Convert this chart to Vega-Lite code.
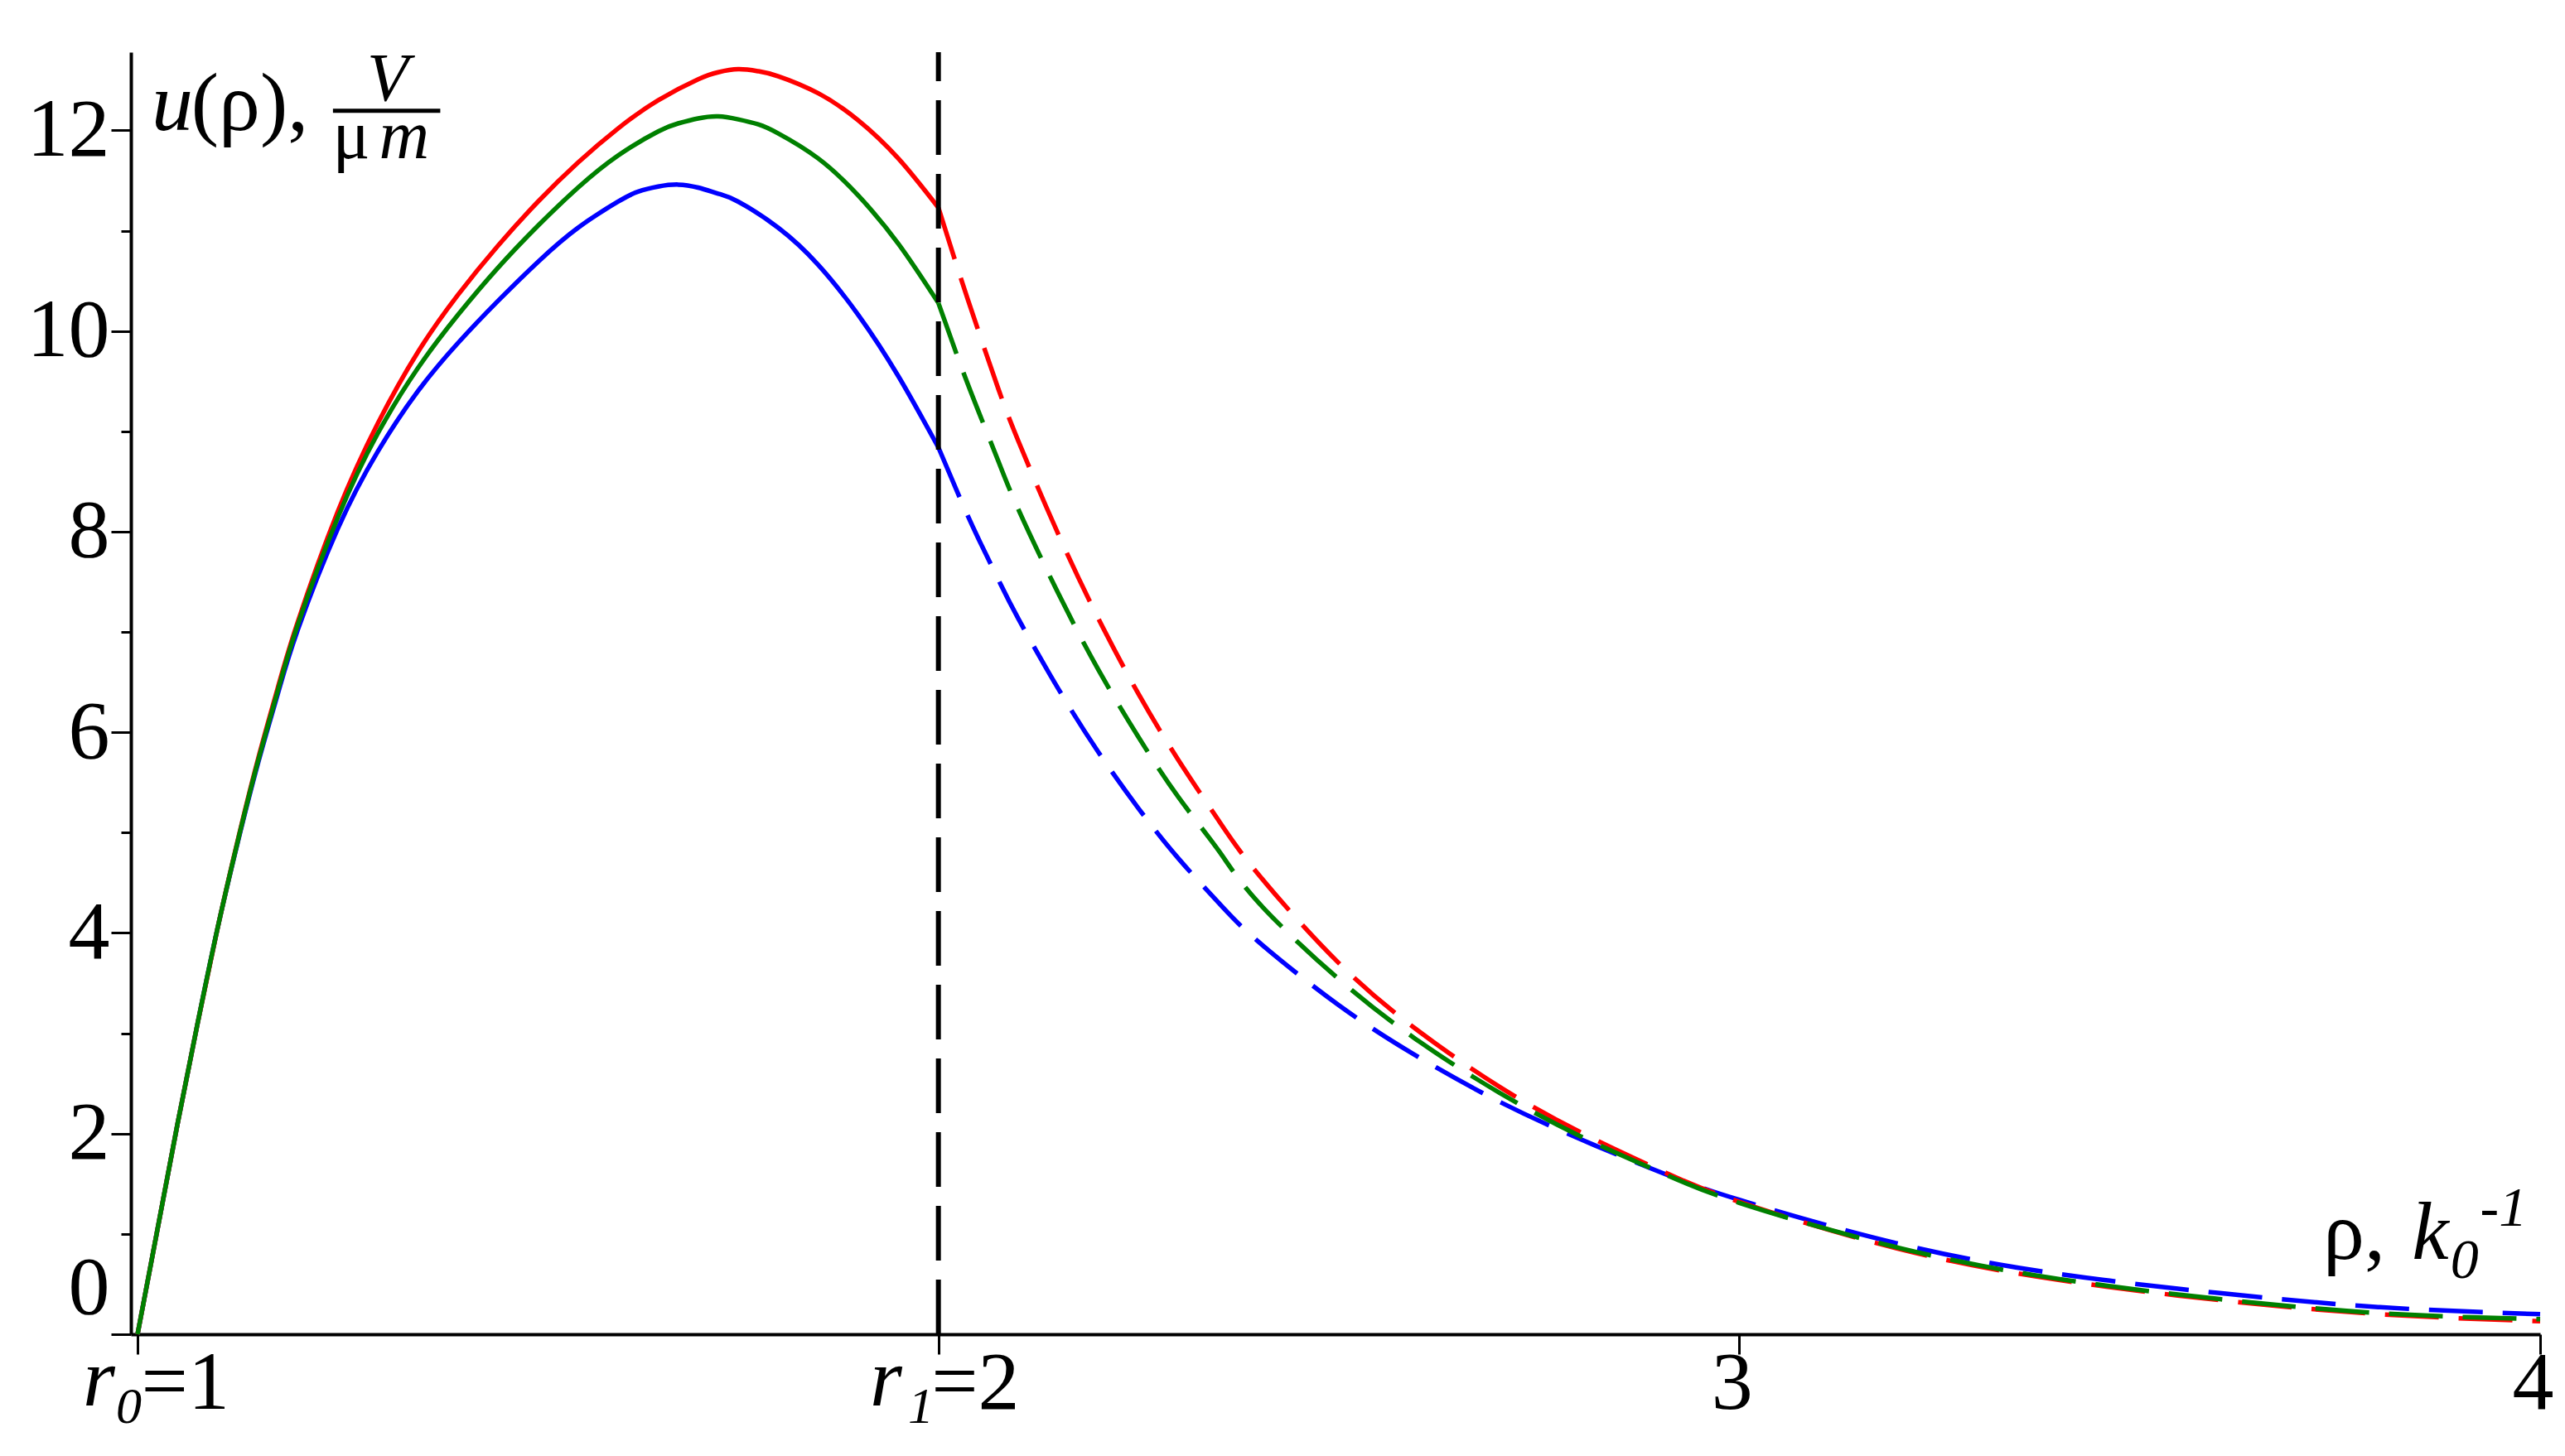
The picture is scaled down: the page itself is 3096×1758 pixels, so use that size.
{
  "$schema": "https://vega.github.io/schema/vega-lite/v6.json",
  "width": 2908,
  "height": 1548,
  "autosize": {"type": "none"},
  "padding": {"left": 158, "top": 63, "right": 30, "bottom": 147},
  "background": "white",
  "config": {
    "view": {"stroke": null},
    "axis": {
      "domainColor": "black", "domainWidth": 4, "tickColor": "black", "tickWidth": 3,
      "labelFont": "Liberation Serif", "labelFontSize": 100, "labelColor": "black",
      "grid": false, "title": null, "labelFlush": false, "labelOverlap": false, "labelBound": false
    }
  },
  "datasets": {
    "one": [{"k": 1}],
    "curves": [
      {"s": "blue", "x": 1.0, "y": 0}, {"s": "blue", "x": 1.025, "y": 1.05}, {"s": "blue", "x": 1.05, "y": 2.1}, {"s": "blue", "x": 1.075, "y": 3.1}, {"s": "blue", "x": 1.1, "y": 4.05}, {"s": "blue", "x": 1.125, "y": 4.9}, {"s": "blue", "x": 1.15, "y": 5.68}, {"s": "blue", "x": 1.175, "y": 6.38}, {"s": "blue", "x": 1.2, "y": 7.02}, {"s": "blue", "x": 1.25, "y": 8.03}, {"s": "blue", "x": 1.3, "y": 8.8}, {"s": "blue", "x": 1.35, "y": 9.4}, {"s": "blue", "x": 1.4, "y": 9.88}, {"s": "blue", "x": 1.45, "y": 10.3}, {"s": "blue", "x": 1.5, "y": 10.69}, {"s": "blue", "x": 1.55, "y": 11.03}, {"s": "blue", "x": 1.6, "y": 11.29}, {"s": "blue", "x": 1.625, "y": 11.39}, {"s": "blue", "x": 1.65, "y": 11.44}, {"s": "blue", "x": 1.675, "y": 11.46}, {"s": "blue", "x": 1.7, "y": 11.43}, {"s": "blue", "x": 1.725, "y": 11.37}, {"s": "blue", "x": 1.75, "y": 11.29}, {"s": "blue", "x": 1.8, "y": 11.03}, {"s": "blue", "x": 1.85, "y": 10.66}, {"s": "blue", "x": 1.9, "y": 10.16}, {"s": "blue", "x": 1.95, "y": 9.55}, {"s": "blue", "x": 2.0, "y": 8.84},
      {"s": "blue", "x": 2.025, "y": 8.37}, {"s": "blue", "x": 2.05, "y": 7.93}, {"s": "blue", "x": 2.075, "y": 7.52}, {"s": "blue", "x": 2.1, "y": 7.13}, {"s": "blue", "x": 2.15, "y": 6.43}, {"s": "blue", "x": 2.2, "y": 5.8}, {"s": "blue", "x": 2.25, "y": 5.24}, {"s": "blue", "x": 2.3, "y": 4.74}, {"s": "blue", "x": 2.35, "y": 4.3}, {"s": "blue", "x": 2.4, "y": 3.91}, {"s": "blue", "x": 2.5, "y": 3.28}, {"s": "blue", "x": 2.6, "y": 2.76}, {"s": "blue", "x": 2.7, "y": 2.32}, {"s": "blue", "x": 2.8, "y": 1.95}, {"s": "blue", "x": 2.9, "y": 1.62}, {"s": "blue", "x": 3.0, "y": 1.34}, {"s": "blue", "x": 3.2, "y": 0.9}, {"s": "blue", "x": 3.4, "y": 0.6}, {"s": "blue", "x": 3.6, "y": 0.41}, {"s": "blue", "x": 3.8, "y": 0.27}, {"s": "blue", "x": 4.0, "y": 0.2},
      {"s": "red", "x": 1.0, "y": 0}, {"s": "red", "x": 1.025, "y": 1.05}, {"s": "red", "x": 1.05, "y": 2.1}, {"s": "red", "x": 1.075, "y": 3.1}, {"s": "red", "x": 1.1, "y": 4.05}, {"s": "red", "x": 1.125, "y": 4.92}, {"s": "red", "x": 1.15, "y": 5.72}, {"s": "red", "x": 1.175, "y": 6.44}, {"s": "red", "x": 1.2, "y": 7.1}, {"s": "red", "x": 1.25, "y": 8.2}, {"s": "red", "x": 1.3, "y": 9.08}, {"s": "red", "x": 1.35, "y": 9.79}, {"s": "red", "x": 1.4, "y": 10.36}, {"s": "red", "x": 1.45, "y": 10.85}, {"s": "red", "x": 1.5, "y": 11.29}, {"s": "red", "x": 1.55, "y": 11.68}, {"s": "red", "x": 1.6, "y": 12.02}, {"s": "red", "x": 1.65, "y": 12.3}, {"s": "red", "x": 1.7, "y": 12.51}, {"s": "red", "x": 1.725, "y": 12.58}, {"s": "red", "x": 1.75, "y": 12.61}, {"s": "red", "x": 1.775, "y": 12.59}, {"s": "red", "x": 1.8, "y": 12.54}, {"s": "red", "x": 1.85, "y": 12.37}, {"s": "red", "x": 1.9, "y": 12.1}, {"s": "red", "x": 1.95, "y": 11.72}, {"s": "red", "x": 2.0, "y": 11.23},
      {"s": "red", "x": 2.025, "y": 10.6}, {"s": "red", "x": 2.05, "y": 10.0}, {"s": "red", "x": 2.075, "y": 9.42}, {"s": "red", "x": 2.1, "y": 8.9}, {"s": "red", "x": 2.15, "y": 7.97}, {"s": "red", "x": 2.2, "y": 7.13}, {"s": "red", "x": 2.25, "y": 6.38}, {"s": "red", "x": 2.3, "y": 5.72}, {"s": "red", "x": 2.35, "y": 5.12}, {"s": "red", "x": 2.4, "y": 4.58}, {"s": "red", "x": 2.5, "y": 3.7}, {"s": "red", "x": 2.6, "y": 3.02}, {"s": "red", "x": 2.7, "y": 2.47}, {"s": "red", "x": 2.8, "y": 2.02}, {"s": "red", "x": 2.9, "y": 1.64}, {"s": "red", "x": 3.0, "y": 1.32}, {"s": "red", "x": 3.2, "y": 0.85}, {"s": "red", "x": 3.4, "y": 0.54}, {"s": "red", "x": 3.6, "y": 0.34}, {"s": "red", "x": 3.8, "y": 0.2}, {"s": "red", "x": 4.0, "y": 0.13},
      {"s": "green", "x": 1.0, "y": 0}, {"s": "green", "x": 1.025, "y": 1.05}, {"s": "green", "x": 1.05, "y": 2.1}, {"s": "green", "x": 1.075, "y": 3.1}, {"s": "green", "x": 1.1, "y": 4.05}, {"s": "green", "x": 1.125, "y": 4.91}, {"s": "green", "x": 1.15, "y": 5.7}, {"s": "green", "x": 1.175, "y": 6.41}, {"s": "green", "x": 1.2, "y": 7.07}, {"s": "green", "x": 1.25, "y": 8.14}, {"s": "green", "x": 1.3, "y": 8.98}, {"s": "green", "x": 1.35, "y": 9.63}, {"s": "green", "x": 1.4, "y": 10.16}, {"s": "green", "x": 1.45, "y": 10.63}, {"s": "green", "x": 1.5, "y": 11.05}, {"s": "green", "x": 1.55, "y": 11.43}, {"s": "green", "x": 1.6, "y": 11.75}, {"s": "green", "x": 1.65, "y": 11.99}, {"s": "green", "x": 1.675, "y": 12.07}, {"s": "green", "x": 1.7, "y": 12.12}, {"s": "green", "x": 1.725, "y": 12.14}, {"s": "green", "x": 1.75, "y": 12.11}, {"s": "green", "x": 1.775, "y": 12.06}, {"s": "green", "x": 1.8, "y": 11.97}, {"s": "green", "x": 1.85, "y": 11.72}, {"s": "green", "x": 1.9, "y": 11.35}, {"s": "green", "x": 1.95, "y": 10.87}, {"s": "green", "x": 2.0, "y": 10.28},
      {"s": "green", "x": 2.025, "y": 9.72}, {"s": "green", "x": 2.05, "y": 9.2}, {"s": "green", "x": 2.075, "y": 8.7}, {"s": "green", "x": 2.1, "y": 8.22}, {"s": "green", "x": 2.15, "y": 7.38}, {"s": "green", "x": 2.2, "y": 6.62}, {"s": "green", "x": 2.25, "y": 5.95}, {"s": "green", "x": 2.3, "y": 5.35}, {"s": "green", "x": 2.35, "y": 4.82}, {"s": "green", "x": 2.4, "y": 4.3}, {"s": "green", "x": 2.5, "y": 3.54}, {"s": "green", "x": 2.6, "y": 2.92}, {"s": "green", "x": 2.7, "y": 2.41}, {"s": "green", "x": 2.8, "y": 1.98}, {"s": "green", "x": 2.9, "y": 1.62}, {"s": "green", "x": 3.0, "y": 1.31}, {"s": "green", "x": 3.2, "y": 0.86}, {"s": "green", "x": 3.4, "y": 0.55}, {"s": "green", "x": 3.6, "y": 0.35}, {"s": "green", "x": 3.8, "y": 0.21}, {"s": "green", "x": 4.0, "y": 0.15}
    ]
  },
  "layer": [
    {
      "data": {"name": "curves"},
      "transform": [{"filter": "datum.x <= 2"}],
      "mark": {"type": "line", "strokeWidth": 5.5, "strokeCap": "butt", "interpolate": "natural"},
      "encoding": {
        "x": {"field": "x", "type": "quantitative", "scale": {"domain": [0.9917, 4], "nice": false, "zero": false},
          "axis": {"values": [1, 2, 3, 4], "format": "d", "tickSize": 24, "labelBaseline": "alphabetic", "labelPadding": 65,
            "labelExpr": "datum.value == 1 ? '=1' : datum.value == 2 ? '=2' : datum.label",
            "labelAlign": {"condition": {"test": "datum.value <= 2", "value": "left"}, "value": "center"},
            "labelOffset": {"condition": {"test": "datum.value == 1", "value": 4}, "value": -9}}},
        "y": {"field": "y", "type": "quantitative", "scale": {"domain": [0, 12.78], "nice": false, "zero": false},
          "axis": {"values": [0, 1, 2, 3, 4, 5, 6, 7, 8, 9, 10, 11, 12], "format": "d", "labelBaseline": "middle", "labelPadding": 2,
            "labelExpr": "datum.value % 2 == 0 ? datum.label : ''",
            "tickSize": {"condition": {"test": "datum.value % 2 == 1", "value": 12}, "value": 24},
            "labelOffset": {"condition": {"test": "datum.value == 0", "value": -56}, "value": 0}}},
        "color": {"field": "s", "type": "nominal", "scale": {"domain": ["red", "green", "blue"], "range": ["#ff0000", "#008000", "#0000ff"]}, "legend": null},
        "order": {"field": "x", "type": "quantitative"}
      }
    },
    {
      "data": {"name": "curves"},
      "transform": [{"filter": "datum.x >= 2"}],
      "mark": {"type": "line", "strokeWidth": 5.5, "strokeDash": [65, 24], "strokeCap": "butt", "interpolate": "natural"},
      "encoding": {
        "x": {"field": "x", "type": "quantitative"},
        "y": {"field": "y", "type": "quantitative"},
        "color": {"field": "s", "type": "nominal", "legend": null},
        "order": {"field": "x", "type": "quantitative"}
      }
    },
    {
      "data": {"name": "one"},
      "mark": {"type": "rule", "color": "black", "strokeWidth": 6, "strokeDash": [66, 23]},
      "encoding": {"x": {"datum": 2}, "y": {"datum": 0}, "y2": {"datum": 12.78}}
    },
    {
      "data": {"name": "one"},
      "mark": {"type": "text", "font": "Liberation Serif", "fontSize": 100, "fontStyle": "italic", "align": "left", "baseline": "alphabetic", "color": "black"},
      "encoding": {"x": {"datum": 0.9317}, "y": {"datum": -0.71}, "text": {"value": "r"}}
    },
    {
      "data": {"name": "one"},
      "mark": {"type": "text", "font": "Liberation Serif", "fontSize": 62, "fontStyle": "italic", "align": "left", "baseline": "alphabetic", "color": "black"},
      "encoding": {"x": {"datum": 0.9731}, "y": {"datum": -0.883}, "text": {"value": "0"}}
    },
    {
      "data": {"name": "one"},
      "mark": {"type": "text", "font": "Liberation Serif", "fontSize": 100, "fontStyle": "italic", "align": "left", "baseline": "alphabetic", "color": "black"},
      "encoding": {"x": {"datum": 1.9145}, "y": {"datum": -0.71}, "text": {"value": "r"}}
    },
    {
      "data": {"name": "one"},
      "mark": {"type": "text", "font": "Liberation Serif", "fontSize": 62, "fontStyle": "italic", "align": "left", "baseline": "alphabetic", "color": "black"},
      "encoding": {"x": {"datum": 1.962}, "y": {"datum": -0.883}, "text": {"value": "1"}}
    },
    {
      "data": {"name": "one"},
      "mark": {"type": "text", "font": "Liberation Serif", "fontSize": 100, "fontStyle": "italic", "align": "left", "baseline": "alphabetic", "color": "black"},
      "encoding": {"x": {"datum": 1.0176}, "y": {"datum": 12.0}, "text": {"value": "u"}}
    },
    {
      "data": {"name": "one"},
      "mark": {"type": "text", "font": "Liberation Serif", "fontSize": 100, "align": "left", "baseline": "alphabetic", "color": "black"},
      "encoding": {"x": {"datum": 1.067}, "y": {"datum": 12.0}, "text": {"value": "(ρ),"}}
    },
    {
      "data": {"name": "one"},
      "mark": {"type": "text", "font": "Liberation Serif", "fontSize": 82, "fontStyle": "italic", "align": "center", "baseline": "alphabetic", "color": "black"},
      "encoding": {"x": {"datum": 1.3124}, "y": {"datum": 12.3}, "text": {"value": "V"}}
    },
    {
      "data": {"name": "one"},
      "mark": {"type": "rule", "color": "black", "strokeWidth": 5},
      "encoding": {"x": {"datum": 1.244}, "x2": {"datum": 1.378}, "y": {"datum": 12.195}}
    },
    {
      "data": {"name": "one"},
      "mark": {"type": "text", "font": "Liberation Serif", "fontSize": 84, "align": "center", "baseline": "alphabetic", "color": "black"},
      "encoding": {"x": {"datum": 1.267}, "y": {"datum": 11.72}, "text": {"value": "μ"}}
    },
    {
      "data": {"name": "one"},
      "mark": {"type": "text", "font": "Liberation Serif", "fontSize": 84, "fontStyle": "italic", "align": "center", "baseline": "alphabetic", "color": "black"},
      "encoding": {"x": {"datum": 1.333}, "y": {"datum": 11.72}, "text": {"value": "m"}}
    },
    {
      "data": {"name": "one"},
      "mark": {"type": "text", "font": "Liberation Serif", "fontSize": 100, "align": "left", "baseline": "alphabetic", "color": "black"},
      "encoding": {"x": {"datum": 3.729}, "y": {"datum": 0.75}, "text": {"value": "ρ,"}}
    },
    {
      "data": {"name": "one"},
      "mark": {"type": "text", "font": "Liberation Serif", "fontSize": 100, "fontStyle": "italic", "align": "left", "baseline": "alphabetic", "color": "black"},
      "encoding": {"x": {"datum": 3.84}, "y": {"datum": 0.75}, "text": {"value": "k"}}
    },
    {
      "data": {"name": "one"},
      "mark": {"type": "text", "font": "Liberation Serif", "fontSize": 68, "fontStyle": "italic", "align": "left", "baseline": "alphabetic", "color": "black"},
      "encoding": {"x": {"datum": 3.888}, "y": {"datum": 0.56}, "text": {"value": "0"}}
    },
    {
      "data": {"name": "one"},
      "mark": {"type": "text", "font": "Liberation Serif", "fontSize": 68, "fontStyle": "italic", "align": "left", "baseline": "alphabetic", "color": "black"},
      "encoding": {"x": {"datum": 3.925}, "y": {"datum": 1.08}, "text": {"value": "-1"}}
    }
  ]
}
